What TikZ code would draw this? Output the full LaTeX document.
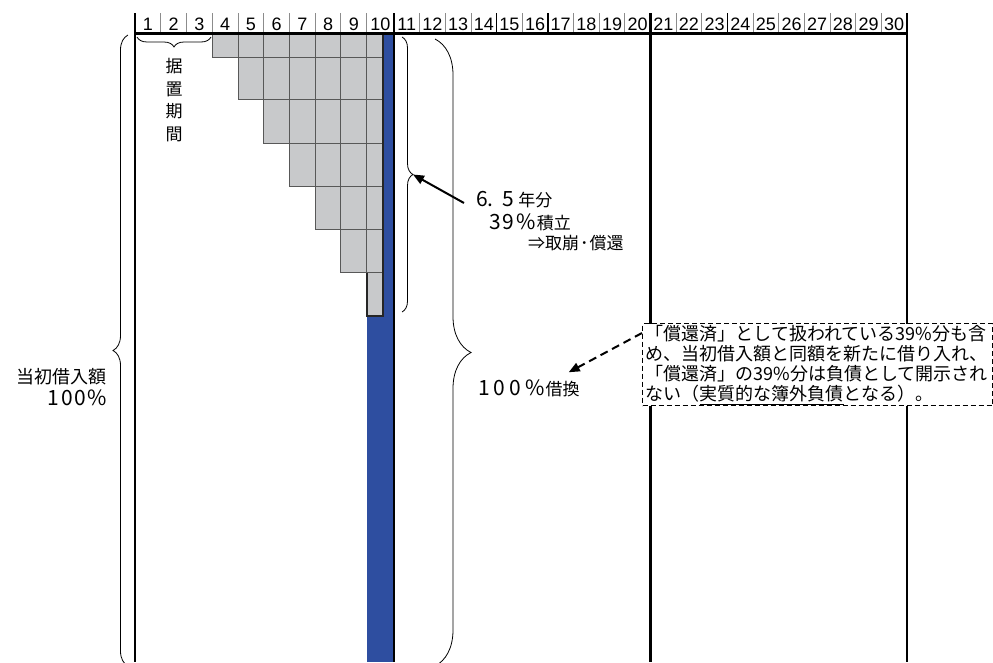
\documentclass[tikz,border=0pt]{standalone}
\usepackage{fontspec}
\setmainfont{Liberation Sans}
\newfontfamily\jp{Noto Sans CJK JP}
\newcommand\jpdigits[1]{{\fontsize{21}{21}\selectfont #1}}
\usetikzlibrary{decorations.pathreplacing,arrows.meta,calc}
\definecolor{barblue}{RGB}{46,78,160}
\definecolor{cellgray}{RGB}{200,201,203}
\definecolor{celledge}{RGB}{88,88,88}
\definecolor{sepgray}{RGB}{140,140,140}
\begin{document}
\begin{tikzpicture}[x=1pt,y=-1pt,
  declare function={colx(\k)=ifthenelse(\k<10,135+25.74*\k,394+25.65*(\k-10));},
  numlabel/.style={font=\fontsize{18}{18}\selectfont, inner sep=0pt, anchor=base},
  jptext/.style={font=\jp\fontsize{17}{17}\selectfont, inner sep=0pt},
  cellbox/.style={fill=cellgray, draw=celledge, line width=0.9pt},
  sepline/.style={line width=0.9pt, sepgray},
  darksep/.style={line width=1.3pt, black},
  bracecurve/.style={decorate, line width=0.8pt},
  notebox/.style={draw, dash pattern=on 5pt off 3pt, line width=1.4pt, fill=white,
    inner xsep=3pt, inner ysep=1pt, align=left, anchor=north west,
    minimum width=350pt, minimum height=82pt, text width=344pt},
  solidarrow/.style={line width=2pt, -{Triangle[length=11pt,width=9pt]}},
  dasharrow/.style={line width=2pt, dash pattern=on 8pt off 5pt, -{Triangle[length=11pt,width=9pt]}},
]
\useasboundingbox (0,0) rectangle (993,662);

% blue bar
\fill[barblue] (383,34) rectangle (394,316);
\fill[barblue] ({colx(9)},316) rectangle (394,662);

% staircase of grey cells
\foreach \r/\yt/\yb in {0/34/57,1/57/99.5,2/99.5/143,3/143/186,4/186/229,5/229/272.5,6/272.5/316}{
  \pgfmathtruncatemacro{\s}{3+\r}
  \foreach \c in {\s,...,9}{
    \pgfmathsetmacro{\xl}{colx(\c)}
    \pgfmathsetmacro{\xr}{\c==9 ? 383 : colx(\c+1)}
    \draw[cellbox] (\xl,\yt) rectangle (\xr,\yb);
  }
}
\draw[line width=2pt, black!85] ({colx(9)},272.5) -- ({colx(9)},316) -- (383,316) -- (383,34);

% header separators
\foreach \k in {1,...,29}{
  \ifnum\k=10\else\ifnum\k=20\else
    \draw[sepline] ({colx(\k)},13) -- ({colx(\k)},33);
  \fi\fi
}
\foreach \k in {14,16,23}{
  \draw[darksep] ({colx(\k)},13) -- ({colx(\k)},33);
}
% header numbers
\foreach \k in {1,...,30}{
  \node[numlabel] (n\k) at ({(colx(\k-1)+colx(\k))/2},30.5) {\k};
}

% main lines
\draw[line width=2.4pt] (134,33.5) -- (908,33.5);
\draw[line width=2pt] (135,13) -- (135,662);
\draw[line width=2.6pt] (394,13) -- (394,662);
\draw[line width=2.6pt] ({colx(20)},13) -- ({colx(20)},662);
\draw[line width=2pt] (907,13) -- (907,662);

% braces
\draw[bracecurve, decoration={brace, amplitude=10pt}] (211,37) -- (137,37);
\draw[bracecurve, decoration={brace, amplitude=15pt}] (128,666) -- (128,35);
\draw[bracecurve, decoration={brace, amplitude=11pt}] (402,37) -- (402,312);
\draw[bracecurve, decoration={brace, amplitude=36pt}] (435,39) -- (435,666);
\coordinate (tipA) at (413,174.5);

% texts
\node[font=\jp\fontsize{17}{22.5}\selectfont, align=center, inner sep=0pt] (sueoki) at (174,100) {据\\置\\期\\間};
\node[font=\jp\fontsize{18}{18}\selectfont, inner sep=0pt, anchor=east] (tinit) at (107,377) {当初借入額};
\node[font=\jp\fontsize{18}{18}\selectfont, inner sep=0pt, anchor=east] (tinitp) at (107,398) {\jpdigits{1\kern2pt 0\kern2pt 0\kern1pt\%}};

\node[jptext, anchor=west] (t65a) at (476,200) {\jpdigits{6.\kern9pt 5}\kern4pt 年分};
\node[jptext, anchor=west] (t65b) at (489,222) {\jpdigits{3\kern2pt 9\kern2pt\%}\kern1pt 積立};
\node[jptext, anchor=west] (t65c) at (528,243) {⇒取崩\kern1pt･\kern1pt 償還};
\draw[solidarrow] ([xshift=-12pt,yshift=-3pt]t65a.west) -- (tipA);

\node[jptext, anchor=west] (t100) at (478,388) {\jpdigits{1\kern4pt 0\kern4pt 0\kern4pt\%}\kern1pt 借換};

\node[notebox, font=\jp\fontsize{18}{20.3}\selectfont] (note) at (642,323)
  {「償還済」として扱われている39\%分も含\\
   め、当初借入額と同額を新たに借り入れ、\\
   「償還済」の39\%分は負債として開示され\\
   ない（\underline{実質的な簿外負債}となる）。};
\draw[dasharrow] ([yshift=-10pt]note.north west) -- ([xshift=-11pt,yshift=7pt]t100.north east);
\end{tikzpicture}
\end{document}
